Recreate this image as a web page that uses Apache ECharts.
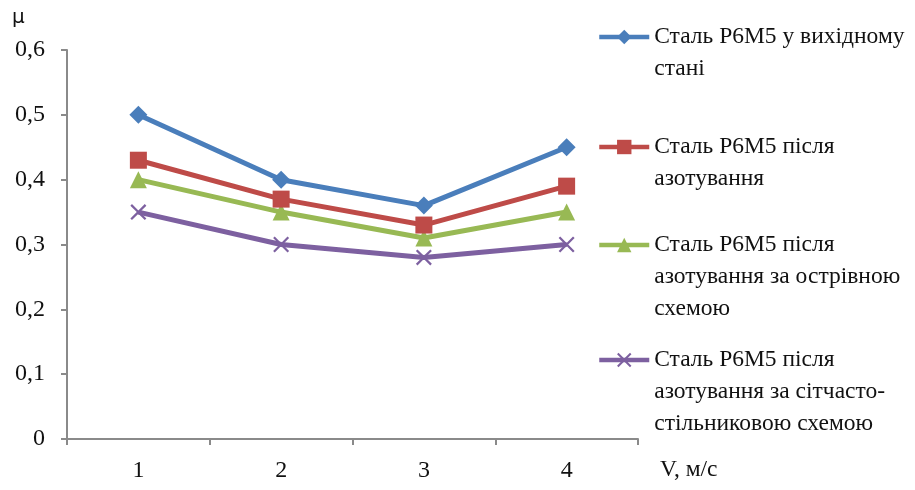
<!DOCTYPE html>
<html>
<head>
<meta charset="utf-8">
<script src="https://cdn.jsdelivr.net/npm/echarts@6/dist/echarts.min.js"></script>
<style>
  html, body { margin: 0; padding: 0; background: #fff; }
  #chart { width: 915px; height: 490px; }
</style>
</head>
<body>
<div id="chart"></div>
<script>
// дані графіка
const speeds = ['1', '2', '3', '4']
const seriesNames = [
  'Сталь Р6М5 у вихідному\nстані',
  'Сталь Р6М5 після\nазотування',
  'Сталь Р6М5 після\nазотування за острівною\nсхемою',
  'Сталь Р6М5 після\nазотування за сітчасто-\nстільниковою схемою'
]
const initial = [0.5, 0.4, 0.36, 0.45]
const nitrided = [0.43, 0.37, 0.33, 0.39]
const islandScheme = [0.4, 0.35, 0.31, 0.35]
const meshScheme = [0.35, 0.3, 0.28, 0.3]

const font = 'Liberation Serif, Times New Roman, serif'
const colors = ['#4A7EBB', '#BE4B48', '#98B954', '#7D60A0']
const crossPath = 'path://M1,0 L5,4 L9,0 L10,1 L6,5 L10,9 L9,10 L5,6 L1,10 L0,9 L4,5 L0,1 Z'
const symbols = ['diamond', 'rect', 'triangle', crossPath]
const symbolSizes = [18, 17, 17, 16]
const dataList = [initial, nitrided, islandScheme, meshScheme]

const lineHeight = 32
// y-координата першого рядка кожного пункту легенди
const legendRows = [37, 147, 245, 360]

const chart = echarts.init(document.getElementById('chart'))

// значок легенди центрується по всьому блоку тексту, тому додаю
// порожні рядки зверху, щоб він стояв навпроти першого рядка
const legend = seriesNames.map((name, i) => {
  const lines = name.split('\n').length
  const total = lines * 2 - 1
  return {
    data: [name],
    left: 597,
    top: legendRows[i] - (total * lineHeight) / 2,
    padding: 0,
    itemWidth: 50,
    itemHeight: 18,
    selectedMode: false,
    lineStyle: { width: 4.5 },
    formatter: (n) => ' \n'.repeat(lines - 1) + n,
    textStyle: {
      fontFamily: font,
      fontSize: 23.5,
      color: '#111',
      lineHeight: lineHeight
    }
  }
})

const series = dataList.map((data, i) => ({
  name: seriesNames[i],
  type: 'line',
  data: data,
  symbol: symbols[i],
  symbolSize: symbolSizes[i],
  showAllSymbol: true,
  lineStyle: { color: colors[i], width: 5 },
  itemStyle: { color: colors[i] },
  z: 10 - i
}))

const option = {
  animation: false,
  color: colors,
  grid: { left: 67, right: 277, top: 50, bottom: 51 },
  legend: legend,
  xAxis: {
    type: 'category',
    data: speeds,
    boundaryGap: true,
    axisLine: { lineStyle: { color: '#8a8a8a', width: 2 } },
    axisTick: { show: true, length: 6, inside: false, lineStyle: { color: '#8a8a8a', width: 2 } },
    axisLabel: { fontFamily: font, fontSize: 24, color: '#111', margin: 20 },
    name: 'V, м/с',
    nameLocation: 'end',
    nameGap: 0,
    nameTextStyle: {
      fontFamily: font,
      fontSize: 23.5,
      color: '#111',
      align: 'left',
      verticalAlign: 'top',
      padding: [19, 0, 0, 22]
    }
  },
  yAxis: {
    type: 'value',
    min: 0,
    max: 0.6,
    interval: 0.1,
    axisLine: { show: true, lineStyle: { color: '#8a8a8a', width: 2 } },
    axisTick: { show: true, length: 6, lineStyle: { color: '#8a8a8a', width: 2 } },
    splitLine: { show: false },
    axisLabel: {
      fontFamily: font,
      fontSize: 24,
      color: '#111',
      margin: 22,
      formatter: (v) => String(Math.round(v * 10) / 10).replace('.', ',')
    },
    name: 'μ',
    nameLocation: 'end',
    nameGap: 22,
    nameTextStyle: {
      fontFamily: 'DejaVu Sans, sans-serif',
      fontSize: 20,
      color: '#111',
      align: 'left',
      padding: [0, 0, 0, -55]
    }
  },
  series: series
}

chart.setOption(option)
</script>
</body>
</html>
